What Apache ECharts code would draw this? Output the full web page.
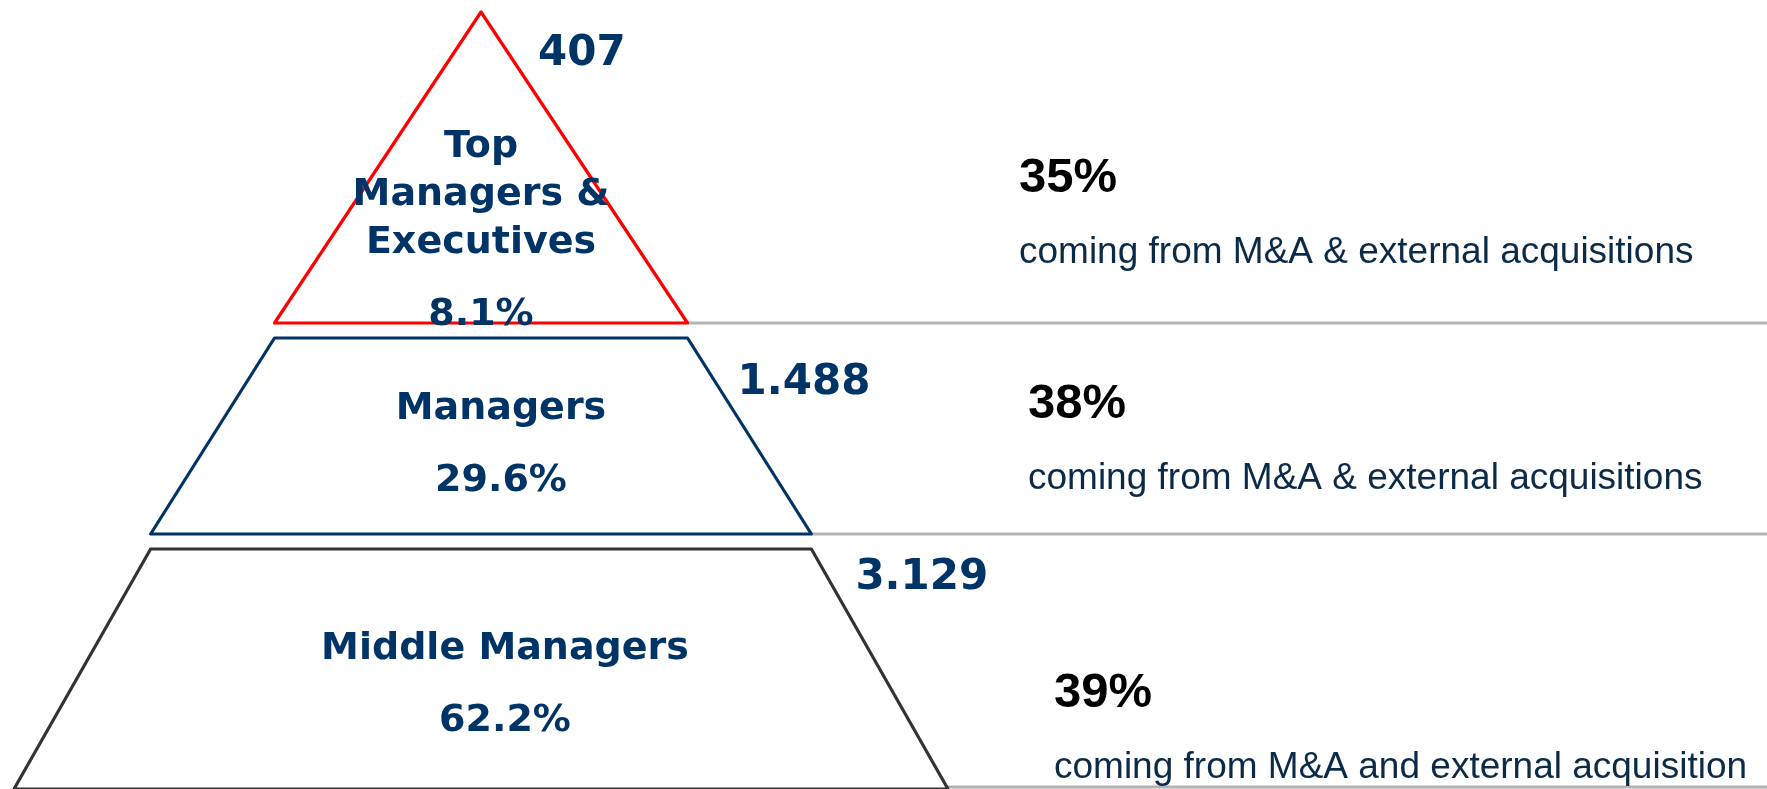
<!DOCTYPE html>
<html>
<head>
<meta charset="utf-8">
<title>Management pyramid</title>
<script src="https://cdn.jsdelivr.net/npm/echarts@6/dist/echarts.min.js"></script>
<style>
html, body { margin: 0; padding: 0; background: #fff; }
#chart { width: 1767px; height: 789px; }
</style>
</head>
<body>
<div id="chart"></div>
<script>
// tiers, top to bottom
var tierNames = ['Top\nManagers &\nExecutives', 'Managers', 'Middle Managers'];
var headcount = [407, 1488, 3129];
var headcountShare = [8.1, 29.6, 62.2];
var externalShare = [35, 38, 39];
var externalNote = [
    'coming from M&A & external acquisitions',
    'coming from M&A & external acquisitions',
    'coming from M&A and external acquisition'
];

// layout (px)
var axisX = 481;
var tierColor = ['#ff0000', '#003366', '#333333'];
var groups = [
    {ids: [0], top: 12, height: 311, minSize: 0, maxSize: 413, heights: [311]},
    {ids: [1, 2], top: 338, height: 451, minSize: 413, maxSize: 934, heights: [196, 240]}
];
var nameShift = [[0, 76], [20, 21], [24, 28]];
var countShift = [[2, 42], [-5, 45], [-11, 29]];
var notePos = [[1019, 178], [1028, 404], [1054, 693]];

var navy = '#003366';
var pyramidFont = {fontFamily: 'DejaVu Sans', fontWeight: 'bold', color: navy};

var chart = echarts.init(document.getElementById('chart'));

function thousands(n) {
    return String(n).replace(/\B(?=(\d{3})+(?!\d))/g, '.');
}

function funnelPart(g, role) {
    var series = {
        type: 'funnel',
        left: axisX - g.maxSize / 2,
        width: g.maxSize,
        top: g.top,
        height: g.height,
        sort: 'ascending',
        gap: 15,
        min: 0,
        max: Math.max.apply(null, g.ids.map(function (i) { return headcount[i]; })),
        minSize: g.minSize,
        maxSize: g.maxSize,
        silent: true,
        animation: false,
        labelLine: {show: false},
        data: g.ids.map(function (i, k) {
            return {
                name: tierNames[i],
                value: headcount[i],
                itemStyle: role === 'shape'
                    ? {height: g.heights[k], color: '#fff', borderColor: tierColor[i], borderWidth: 3.2}
                    : {height: g.heights[k], color: 'rgba(0,0,0,0)', borderWidth: 0}
            };
        })
    };

    if (role === 'shape') {
        series.label = {
            show: true,
            position: 'inside',
            color: navy,
            textBorderWidth: 0,
            formatter: function (p) {
                var i = g.ids[p.dataIndex];
                return tierNames[i].split('\n').map(function (s) { return '{name|' + s + '}'; }).join('\n')
                    + '\n{share|' + headcountShare[i].toFixed(1) + '%}';
            },
            rich: {
                name: echarts.util.extend({fontSize: 38, lineHeight: 48}, pyramidFont),
                share: echarts.util.extend({fontSize: 38, lineHeight: 96}, pyramidFont)
            }
        };
        series.labelLayout = function (p) {
            var s = nameShift[g.ids[p.dataIndex]];
            return {dx: s[0], dy: s[1]};
        };
    } else if (role === 'count') {
        series.label = echarts.util.extend({
            show: true,
            position: 'rightBottom',
            fontSize: 42,
            textBorderWidth: 0,
            formatter: function (p) { return thousands(headcount[g.ids[p.dataIndex]]); }
        }, pyramidFont);
        series.labelLine = {show: false, length: 50};
        series.labelLayout = function (p) {
            var s = countShift[g.ids[p.dataIndex]];
            return {dx: s[0], dy: s[1]};
        };
    } else {
        series.label = {
            show: true,
            position: 'rightTop',
            textBorderWidth: 0,
            formatter: function (p) {
                var i = g.ids[p.dataIndex];
                return '{pct|' + externalShare[i] + '%}\n{txt|' + externalNote[i] + '}';
            },
            rich: {
                pct: {fontFamily: 'Liberation Sans', fontWeight: 'bold', fontSize: 49, lineHeight: 75, color: '#000'},
                txt: {fontFamily: 'Liberation Sans', fontSize: 37, lineHeight: 75, color: '#0b2a48'}
            }
        };
        series.labelLine = {show: true, length: 20, lineStyle: {color: '#b3b3b3', width: 3}};
        series.labelLayout = function (p) {
            var i = g.ids[p.dataIndex];
            var y = Math.min(p.rect.y + p.rect.height, chart.getHeight() - 2);
            return {
                x: notePos[i][0],
                y: notePos[i][1] - 37.5,
                align: 'left',
                verticalAlign: 'top',
                labelLinePoints: [[p.rect.x + p.rect.width, y], [chart.getWidth(), y]]
            };
        };
    }
    return series;
}

var series = [];
['shape', 'count', 'note'].forEach(function (role) {
    groups.forEach(function (g) { series.push(funnelPart(g, role)); });
});

chart.setOption({
    backgroundColor: '#fff',
    series: series
});
</script>
</body>
</html>
